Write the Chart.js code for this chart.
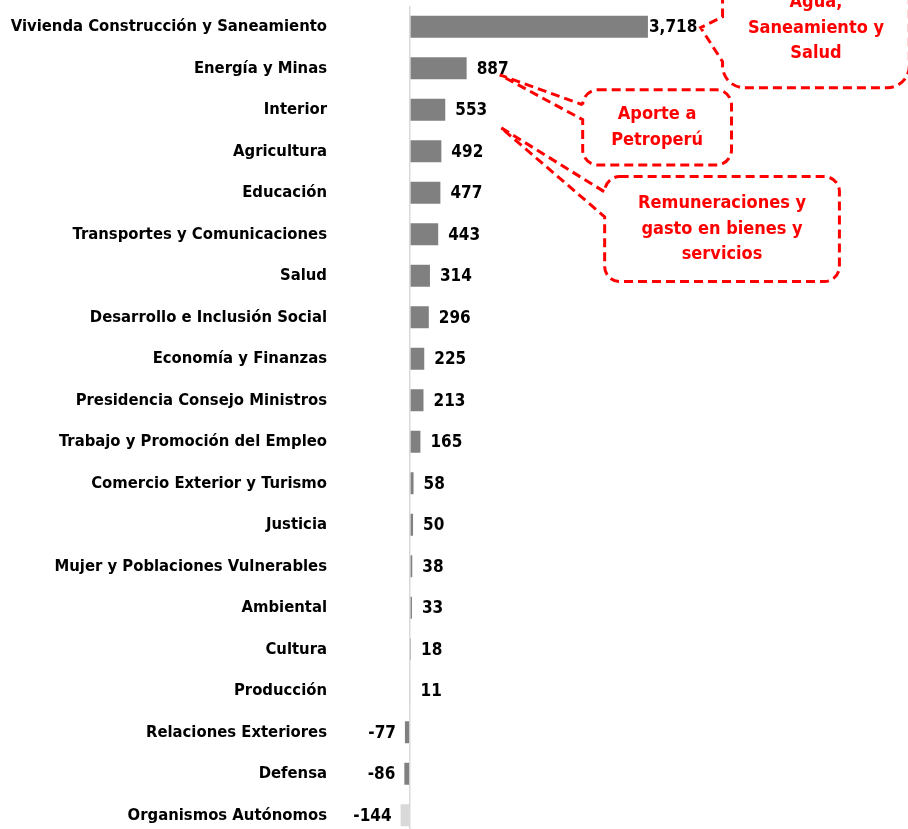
<!DOCTYPE html>
<html>
<head>
<meta charset="utf-8">
<script src="https://cdn.jsdelivr.net/npm/chart.js@4/dist/chart.umd.min.js"></script>
<style>
  html, body { margin: 0; padding: 0; background: #fff; overflow: hidden; }
</style>
</head>
<body>
<canvas id="chart" width="908" height="845"></canvas>
<script>
const categories = [
  'Vivienda Construcción y Saneamiento', 'Energía y Minas', 'Interior', 'Agricultura',
  'Educación', 'Transportes y Comunicaciones', 'Salud', 'Desarrollo e Inclusión Social',
  'Economía y Finanzas', 'Presidencia Consejo Ministros', 'Trabajo y Promoción del Empleo',
  'Comercio Exterior y Turismo', 'Justicia', 'Mujer y Poblaciones Vulnerables', 'Ambiental',
  'Cultura', 'Producción', 'Relaciones Exteriores', 'Defensa', 'Organismos Autónomos'
];
const values = [3718, 887, 553, 492, 477, 443, 314, 296, 225, 213, 165, 58, 50, 38, 33, 18, 11, -77, -86, -144];

// callouts: box in (value, row) units, wedge tip in (value, row), wedge base rows on left edge
const calloutTexts = [
  ['Agua,', 'Saneamiento y', 'Salud'],
  ['Aporte a', 'Petroperú'],
  ['Remuneraciones y', 'gasto en bienes y', 'servicios']
];
const calloutBoxes = [
  { x0: 4883, x1: 7800, r0: -1.4, r1: 1.47, tipV: 4540, tipR: 0.02, base0: -0.24, base1: 0.84, radius: 22 },
  { x0: 2699, x1: 5023, r0: 1.52, r1: 3.33, tipV: 1404, tipR: 1.16, base0: 1.88, base1: 2.24, radius: 15 },
  { x0: 3042, x1: 6708, r0: 3.61, r1: 6.14, tipV: 1420, tipR: 2.43, base0: 3.98, base1: 4.58, radius: 15 }
];

const FONT = '"Liberation Sans Narrow", "DejaVu Sans Condensed", sans-serif';

const fmt = v => v.toLocaleString('en-US');

const valueLabels = {
  id: 'valueLabels',
  afterDatasetsDraw(chart) {
    const ctx = chart.ctx;
    const meta = chart.getDatasetMeta(0);
    ctx.save();
    ctx.font = 'bold 17px ' + FONT;
    ctx.fillStyle = '#000';
    ctx.textBaseline = 'middle';
    meta.data.forEach((bar, i) => {
      const v = values[i];
      if (v >= 0) {
        ctx.textAlign = 'left';
        ctx.fillText(fmt(v), bar.x + (i === 0 ? 1 : 10), bar.y + 1);
      } else {
        ctx.textAlign = 'right';
        ctx.fillText(fmt(v), bar.x - 9, bar.y + 1);
      }
    });
    ctx.restore();
  }
};

const callouts = {
  id: 'callouts',
  afterDraw(chart) {
    const ctx = chart.ctx;
    const xs = chart.scales.x, ys = chart.scales.y;
    ctx.save();
    calloutBoxes.forEach((c, k) => {
      const l = xs.getPixelForValue(c.x0), rt = xs.getPixelForValue(c.x1);
      const t = ys.getPixelForValue(c.r0), b = ys.getPixelForValue(c.r1);
      const tx = xs.getPixelForValue(c.tipV), ty = ys.getPixelForValue(c.tipR);
      const ya = ys.getPixelForValue(c.base0), yb = ys.getPixelForValue(c.base1);
      const r = c.radius;
      ctx.beginPath();
      ctx.moveTo(l + r, t);
      ctx.lineTo(rt - r, t);
      ctx.arcTo(rt, t, rt, t + r, r);
      ctx.lineTo(rt, b - r);
      ctx.arcTo(rt, b, rt - r, b, r);
      ctx.lineTo(l + r, b);
      ctx.arcTo(l, b, l, b - r, r);
      ctx.lineTo(l, yb);
      ctx.lineTo(tx, ty);
      ctx.lineTo(l, ya);
      ctx.lineTo(l, t + r);
      ctx.arcTo(l, t, l + r, t, r);
      ctx.closePath();
      ctx.fillStyle = '#fff';
      ctx.fill();
      ctx.setLineDash([9, 5]);
      ctx.lineWidth = 3;
      ctx.strokeStyle = '#ff0000';
      ctx.stroke();

      const lines = calloutTexts[k];
      ctx.setLineDash([]);
      ctx.font = 'bold 18px ' + FONT;
      ctx.fillStyle = '#ff0000';
      ctx.textAlign = 'center';
      ctx.textBaseline = 'middle';
      const cx = (l + rt) / 2, cy = (t + b) / 2;
      const lh = 25.5;
      lines.forEach((s, j) => {
        ctx.fillText(s, cx, cy + (j - (lines.length - 1) / 2) * lh);
      });
    });
    ctx.restore();
  }
};

new Chart(document.getElementById('chart'), {
  type: 'bar',
  data: {
    labels: categories,
    datasets: [{
      data: values,
      backgroundColor: values.map((v, i) => i === values.length - 1 ? '#d9d9d9' : '#808080'),
      barPercentage: 0.53,
      categoryPercentage: 1
    }]
  },
  options: {
    indexAxis: 'y',
    responsive: false,
    animation: false,
    devicePixelRatio: 1,
    layout: { padding: { top: 6, bottom: 9, left: 0, right: 242 } },
    plugins: { legend: { display: false }, tooltip: { enabled: false } },
    scales: {
      x: {
        min: -1200,
        max: 4000,
        afterFit(scale) { scale.height = 0; },
        ticks: { display: false, stepSize: 400 },
        border: { display: false },
        grid: {
          drawTicks: false,
          lineWidth: 1.5,
          color: c => c.tick && c.tick.value === 0 ? '#d9d9d9' : 'rgba(0,0,0,0)'
        }
      },
      y: {
        afterFit(scale) { scale.width = 333; scale.paddingTop = 0; scale.paddingBottom = 0; },
        grid: { display: false, drawTicks: false },
        border: { display: false },
        ticks: {
          color: '#000',
          padding: 6,
          font: { family: FONT, size: 16.5, weight: 'bold' }
        }
      }
    }
  },
  plugins: [valueLabels, callouts]
});
</script>
</body>
</html>
